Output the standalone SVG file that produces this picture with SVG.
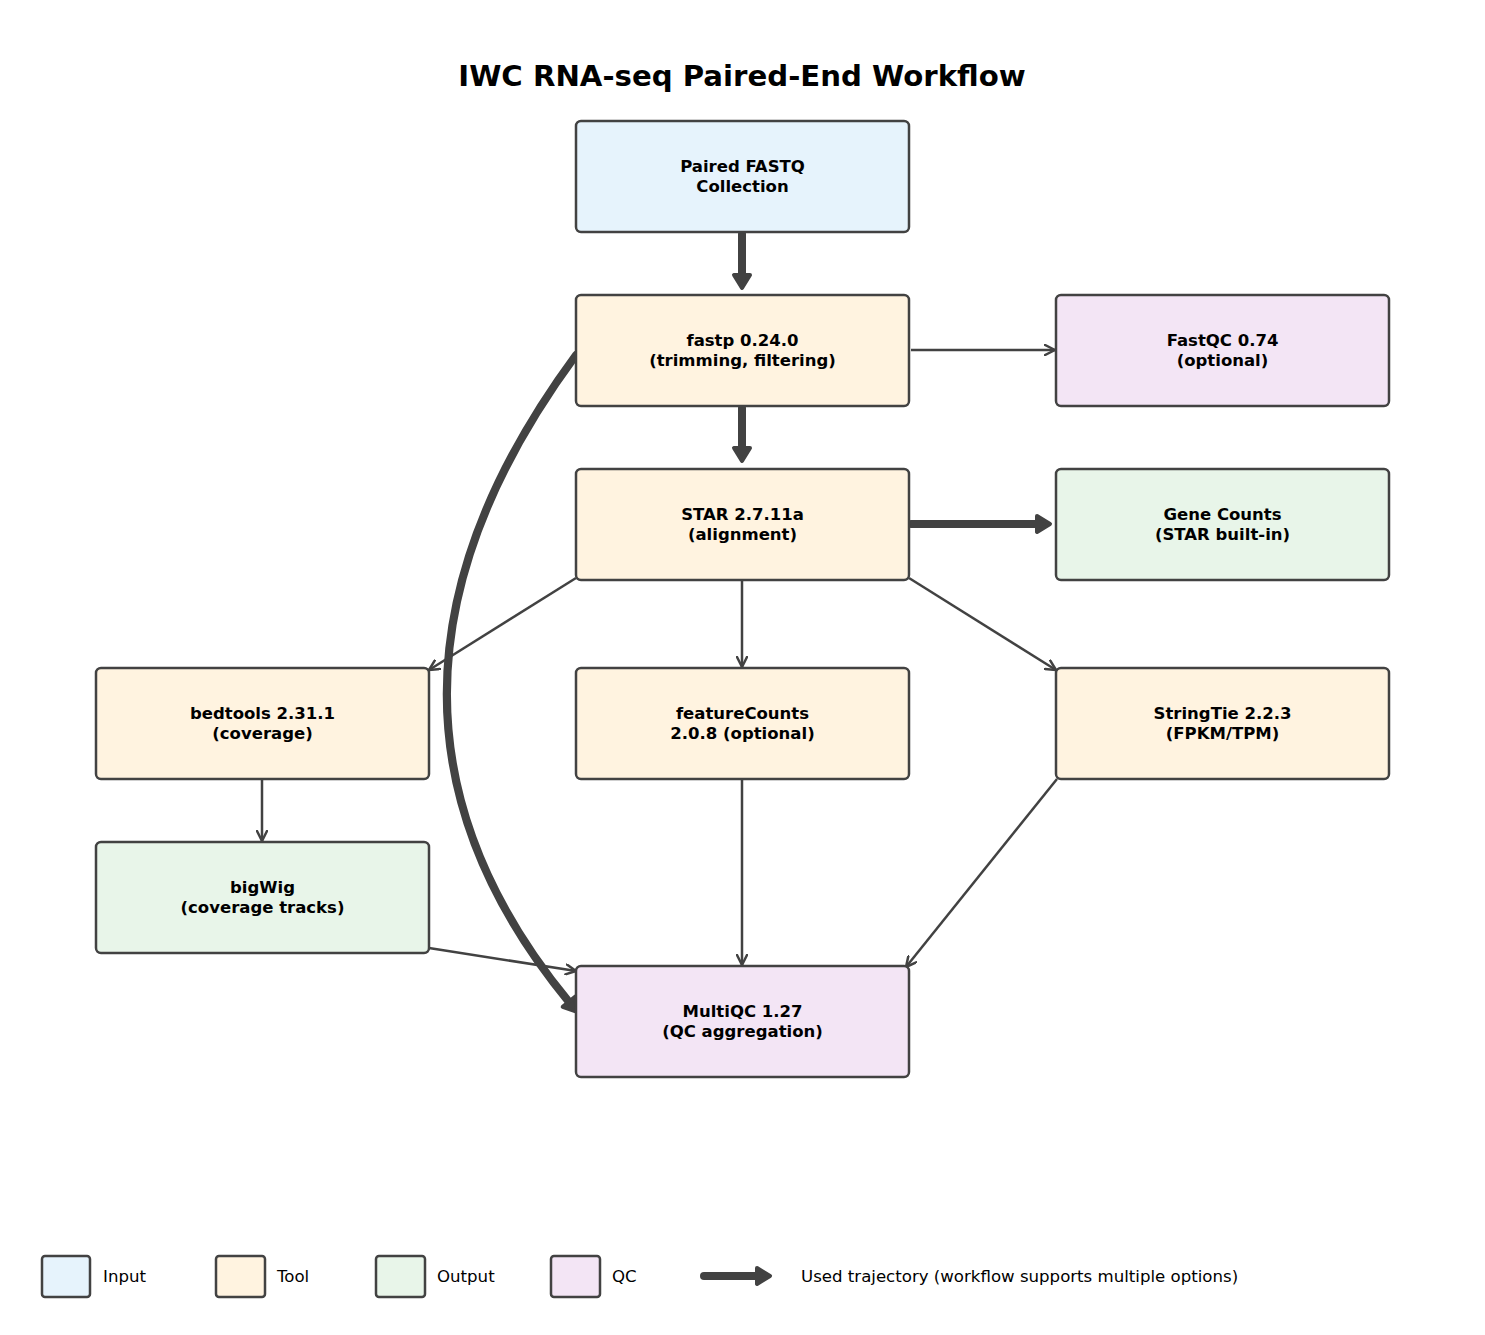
<svg xmlns="http://www.w3.org/2000/svg" width="1485" height="1335" viewBox="0 0 1485 1335">
<style>
.box{stroke:#424242;stroke-width:2.5}
.in{fill:#E6F3FC}
.tool{fill:#FFF3E0}
.out{fill:#E8F5E9}
.qc{fill:#F3E5F5}
.lbl{font-family:"DejaVu Sans",sans-serif;font-size:16.5px;font-weight:bold;text-anchor:middle;fill:#000}
.leg{font-family:"DejaVu Sans",sans-serif;font-size:16.6px;fill:#000}
.title{font-family:"DejaVu Sans",sans-serif;font-size:29.2px;font-weight:bold;text-anchor:middle;fill:#000}
.thin{fill:none;stroke:#424242;stroke-width:2.5;marker-end:url(#open)}
.thick{fill:none;stroke:#424242;stroke-width:8;stroke-linecap:round;marker-end:url(#solid)}
</style>
<defs>
<marker id="open" markerUnits="userSpaceOnUse" viewBox="0 0 14 12" markerWidth="14" markerHeight="12" refX="11" refY="6" orient="auto">
<path d="M1,1 L11,6 L1,11" fill="none" stroke="#424242" stroke-width="2.5" stroke-linecap="round" stroke-linejoin="round"/>
</marker>
<marker id="solid" markerUnits="userSpaceOnUse" viewBox="0 0 20 22" markerWidth="20" markerHeight="22" refX="4" refY="11" orient="auto">
<path d="M3,3 L16,11 L3,19 Z" fill="#424242" stroke="#424242" stroke-width="4" stroke-linejoin="round"/>
</marker>
</defs>
<rect width="1485" height="1335" fill="#fff"/>
<text class="title" x="742" y="86">IWC RNA-seq Paired-End Workflow</text>

<g id="connectors">
<path class="thick" d="M742,234 L742,276"/>
<path class="thick" d="M742,408 L742,449"/>
<path class="thick" d="M911,524 L1038,524"/>
<path class="thick" d="M576,355 Q321,701 569.5,1002.6"/>
<path class="thin" d="M911,350 L1055,350"/>
<path class="thin" d="M576,578 L429,670"/>
<path class="thin" d="M742,581 L742,667"/>
<path class="thin" d="M909,578 L1056,670"/>
<path class="thin" d="M262,780 L262,841"/>
<path class="thin" d="M429,948 L576,971"/>
<path class="thin" d="M742,780 L742,965"/>
<path class="thin" d="M1057,779 L906,967"/>
</g>

<g id="n_input">
<rect class="box in" x="576" y="121" width="333" height="111" rx="5"/>
<text class="lbl" x="742.5" y="172">Paired FASTQ</text>
<text class="lbl" x="742.5" y="192">Collection</text>
</g>
<g id="n_fastp">
<rect class="box tool" x="576" y="295" width="333" height="111" rx="5"/>
<text class="lbl" x="742.5" y="346">fastp 0.24.0</text>
<text class="lbl" x="742.5" y="366">(trimming, filtering)</text>
</g>
<g id="n_fastqc">
<rect class="box qc" x="1056" y="295" width="333" height="111" rx="5"/>
<text class="lbl" x="1222.5" y="346">FastQC 0.74</text>
<text class="lbl" x="1222.5" y="366">(optional)</text>
</g>
<g id="n_star">
<rect class="box tool" x="576" y="469" width="333" height="111" rx="5"/>
<text class="lbl" x="742.5" y="520">STAR 2.7.11a</text>
<text class="lbl" x="742.5" y="540">(alignment)</text>
</g>
<g id="n_genecounts">
<rect class="box out" x="1056" y="469" width="333" height="111" rx="5"/>
<text class="lbl" x="1222.5" y="520">Gene Counts</text>
<text class="lbl" x="1222.5" y="540">(STAR built-in)</text>
</g>
<g id="n_bedtools">
<rect class="box tool" x="96" y="668" width="333" height="111" rx="5"/>
<text class="lbl" x="262.5" y="719">bedtools 2.31.1</text>
<text class="lbl" x="262.5" y="739">(coverage)</text>
</g>
<g id="n_featurecounts">
<rect class="box tool" x="576" y="668" width="333" height="111" rx="5"/>
<text class="lbl" x="742.5" y="719">featureCounts</text>
<text class="lbl" x="742.5" y="739">2.0.8 (optional)</text>
</g>
<g id="n_stringtie">
<rect class="box tool" x="1056" y="668" width="333" height="111" rx="5"/>
<text class="lbl" x="1222.5" y="719">StringTie 2.2.3</text>
<text class="lbl" x="1222.5" y="739">(FPKM/TPM)</text>
</g>
<g id="n_bigwig">
<rect class="box out" x="96" y="842" width="333" height="111" rx="5"/>
<text class="lbl" x="262.5" y="893">bigWig</text>
<text class="lbl" x="262.5" y="913">(coverage tracks)</text>
</g>
<g id="n_multiqc">
<rect class="box qc" x="576" y="966" width="333" height="111" rx="5"/>
<text class="lbl" x="742.5" y="1017">MultiQC 1.27</text>
<text class="lbl" x="742.5" y="1037">(QC aggregation)</text>
</g>

<g id="legend">
<rect class="box in" x="42" y="1256" width="48" height="41" rx="3" stroke-width="2"/>
<text class="leg" x="103" y="1282">Input</text>
<rect class="box tool" x="216" y="1256" width="49" height="41" rx="3" stroke-width="2"/>
<text class="leg" x="277" y="1282">Tool</text>
<rect class="box out" x="376" y="1256" width="49" height="41" rx="3" stroke-width="2"/>
<text class="leg" x="437" y="1282">Output</text>
<rect class="box qc" x="551" y="1256" width="49" height="41" rx="3" stroke-width="2"/>
<text class="leg" x="612" y="1282">QC</text>
<path class="thick" d="M704,1276 L758,1276"/>
<text class="leg" x="801" y="1282">Used trajectory (workflow supports multiple options)</text>
</g>
</svg>
